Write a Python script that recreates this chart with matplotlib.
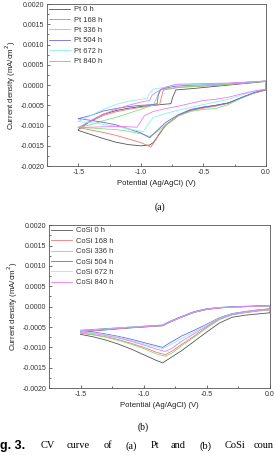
import numpy as np
import matplotlib
matplotlib.use('Agg')
import matplotlib.pyplot as plt
from matplotlib.ticker import MultipleLocator

plt.rcParams['font.family'] = ['Liberation Sans', 'DejaVu Sans']

colors = ['#555555', '#f07878', '#7ee07e', '#6a6ae6', '#8af0f0', '#f07af0']

# ---- (a) Pt : upper (anodic) and lower (cathodic) branches ----
pt_labels = ['Pt 0 h', 'Pt 168 h', 'Pt 336 h', 'Pt 504 h', 'Pt 672 h', 'Pt 840 h']

pt0_up_x = [-1.5, -1.4, -1.3, -1.2, -1.1, -1.0, -0.9, -0.8, -0.76, -0.745, -0.72, -0.6, -0.5, -0.4, -0.3, -0.2, -0.1, 0.0]
pt0_up_y = [-0.00110, -0.00088, -0.00072, -0.00063, -0.00057, -0.00053, -0.00050, -0.00047, -0.00046, -0.00030,
            -0.00012, -0.00009, -0.00006, -0.00003, 0.0, 0.00003, 0.00006, 0.00009]
pt0_lo_x = [0.0, -0.1, -0.2, -0.3, -0.4, -0.5, -0.6, -0.7, -0.8, -0.85, -0.9, -0.93, -1.0, -1.1, -1.2, -1.3, -1.4, -1.5]
pt0_lo_y = [-0.00012, -0.00020, -0.00032, -0.00044, -0.00050, -0.00055, -0.00062, -0.00075, -0.00098, -0.00120,
            -0.00142, -0.00148, -0.00150, -0.00147, -0.00141, -0.00132, -0.00122, -0.00112]

pt168_up_x = [-1.5, -1.4, -1.3, -1.2, -1.1, -1.0, -0.9, -0.85, -0.835, -0.82, -0.7, -0.6, -0.4, -0.2, 0.0]
pt168_up_y = [-0.00105, -0.00090, -0.00075, -0.00066, -0.00060, -0.00055, -0.00050, -0.00048, -0.00030, -0.00012,
              -0.00006, -0.00004, -0.00001, 0.00004, 0.00010]
pt168_lo_x = [0.0, -0.1, -0.2, -0.3, -0.4, -0.5, -0.6, -0.7, -0.8, -0.85, -0.88, -0.92, -1.0, -1.1, -1.2, -1.3, -1.4, -1.5]
pt168_lo_y = [-0.00012, -0.00020, -0.00032, -0.00045, -0.00052, -0.00057, -0.00063, -0.00076, -0.00100, -0.00118,
              -0.00135, -0.00153, -0.00142, -0.00133, -0.00124, -0.00117, -0.00111, -0.00105]

pt336_up_x = [-1.5, -1.4, -1.3, -1.2, -1.1, -1.0, -0.93, -0.9, -0.87, -0.85, -0.7, -0.5, -0.3, -0.1, 0.0]
pt336_up_y = [-0.00105, -0.00098, -0.00088, -0.00080, -0.00070, -0.00060, -0.00052, -0.00050, -0.00030, -0.00012,
              -0.00005, -0.00002, 0.00002, 0.00007, 0.00010]
pt336_lo_x = [0.0, -0.1, -0.2, -0.3, -0.4, -0.5, -0.6, -0.7, -0.8, -0.87, -0.93, -1.0, -1.1, -1.2, -1.3, -1.4, -1.5]
pt336_lo_y = [-0.00010, -0.00020, -0.00033, -0.00048, -0.00058, -0.00060, -0.00065, -0.00076, -0.00098, -0.00115,
              -0.00127, -0.00120, -0.00114, -0.00110, -0.00108, -0.00106, -0.00105]

pt504_up_x = [-1.5, -1.4, -1.3, -1.2, -1.1, -1.0, -0.9, -0.87, -0.86, -0.84, -0.75, -0.7, -0.5, -0.3, 0.0]
pt504_up_y = [-0.00083, -0.00075, -0.00064, -0.00058, -0.00053, -0.00050, -0.00048, -0.00046, -0.00025, -0.00010,
              -0.00004, -0.00002, 0.00001, 0.00004, 0.00010]
pt504_lo_x = [0.0, -0.1, -0.2, -0.3, -0.4, -0.5, -0.6, -0.7, -0.8, -0.88, -0.93, -1.0, -1.1, -1.2, -1.3, -1.4, -1.5]
pt504_lo_y = [-0.00010, -0.00019, -0.00031, -0.00044, -0.00050, -0.00054, -0.00060, -0.00073, -0.00092, -0.00115,
              -0.00130, -0.00118, -0.00108, -0.00098, -0.00092, -0.00087, -0.00083]

pt672_up_x = [-1.5, -1.4, -1.3, -1.2, -1.1, -1.0, -0.95, -0.93, -0.9, -0.8, -0.72, -0.6, -0.3, 0.0]
pt672_up_y = [-0.00090, -0.00075, -0.00060, -0.00048, -0.00040, -0.00035, -0.00033, -0.00020, -0.00010, -0.00005,
              0.0, 0.00001, 0.00004, 0.00010]
pt672_lo_x = [0.0, -0.1, -0.2, -0.3, -0.4, -0.5, -0.6, -0.7, -0.8, -0.9, -0.95, -0.98, -1.1, -1.2, -1.3, -1.4, -1.5]
pt672_lo_y = [-0.00010, -0.00015, -0.00025, -0.00035, -0.00042, -0.00048, -0.00055, -0.00062, -0.00070, -0.00080,
              -0.00100, -0.00115, -0.00108, -0.00102, -0.00097, -0.00093, -0.00090]

pt840_up_x = [-1.5, -1.4, -1.3, -1.2, -1.1, -1.0, -0.93, -0.91, -0.88, -0.8, -0.72, -0.6, -0.3, 0.0]
pt840_up_y = [-0.00105, -0.00088, -0.00072, -0.00060, -0.00050, -0.00042, -0.00038, -0.00025, -0.00018, -0.00005,
              0.00002, 0.00003, 0.00005, 0.00010]
pt840_lo_x = [0.0, -0.1, -0.2, -0.3, -0.4, -0.5, -0.6, -0.7, -0.8, -0.9, -0.97, -1.03, -1.1, -1.2, -1.3, -1.4, -1.5]
pt840_lo_y = [-0.00010, -0.00015, -0.00022, -0.00030, -0.00035, -0.00038, -0.00045, -0.00052, -0.00058, -0.00065,
              -0.00075, -0.00104, -0.00103, -0.00102, -0.00103, -0.00104, -0.00105]

# ---- (b) CoSi ----
cosi_labels = ['CoSi 0 h', 'CoSi 168 h', 'CoSi 336 h', 'CoSi 504 h', 'CoSi 672 h', 'CoSi 840 h']
cosi_up_x = [-1.5, -1.3, -1.1, -0.9, -0.85, -0.8, -0.7, -0.6, -0.5, -0.4, -0.3, -0.2, -0.1, 0.0]
cosi_up_y0 = [-0.00062, -0.00057, -0.00052, -0.00048, -0.00047, -0.00039, -0.00026, -0.00014, -0.00007, -0.00003, -0.00001, 0.0, 0.00001, 0.00002]
cosi_up_y1 = [-0.00061, -0.00056, -0.00051, -0.00047, -0.00046, -0.00038, -0.00025, -0.00013, -0.00006, -0.00003, -0.00001, 0.0, 0.00001, 0.00002]
cosi_up_y2 = [-0.00060, -0.00055, -0.00051, -0.00047, -0.00046, -0.00038, -0.00025, -0.00013, -0.00006, -0.00002, -0.00001, 0.0, 0.00001, 0.00002]
cosi_up_y3 = [-0.00058, -0.00054, -0.00050, -0.00046, -0.00045, -0.00037, -0.00024, -0.00012, -0.00005, -0.00002, 0.0, 0.00001, 0.00002, 0.00003]
cosi_up_y4 = [-0.00059, -0.00055, -0.00050, -0.00047, -0.00046, -0.00038, -0.00025, -0.00013, -0.00006, -0.00002, -0.00001, 0.0, 0.00001, 0.00002]
cosi_up_y5 = [-0.00060, -0.00056, -0.00051, -0.00047, -0.00046, -0.00038, -0.00025, -0.00013, -0.00006, -0.00003, -0.00001, 0.0, 0.00001, 0.00002]

cosi_lo_x0 = [0.0, -0.1, -0.2, -0.3, -0.4, -0.5, -0.6, -0.7, -0.8, -0.85, -0.9, -1.0, -1.1, -1.2, -1.3, -1.4, -1.5]
cosi_lo_x1 = [0.0, -0.1, -0.2, -0.3, -0.4, -0.5, -0.6, -0.7, -0.78, -0.83, -0.9, -1.0, -1.1, -1.2, -1.3, -1.4, -1.5]
cosi_lo_y0 = [-0.00015, -0.00018, -0.00021, -0.00026, -0.00040, -0.00062, -0.00085, -0.00108, -0.00128, -0.00138, -0.00132, -0.00118, -0.00104, -0.00092, -0.00082, -0.00074, -0.00068]
cosi_lo_y1 = [-0.00008, -0.00011, -0.00015, -0.00020, -0.00030, -0.00050, -0.00072, -0.00093, -0.00110, -0.00118, -0.00112, -0.00100, -0.00090, -0.00081, -0.00074, -0.00069, -0.00065]
cosi_lo_y2 = [-0.00007, -0.00010, -0.00014, -0.00020, -0.00032, -0.00052, -0.00075, -0.00096, -0.00115, -0.00122, -0.00116, -0.00103, -0.00092, -0.00083, -0.00075, -0.00069, -0.00065]
cosi_lo_y3 = [-0.00005, -0.00008, -0.00012, -0.00017, -0.00027, -0.00043, -0.00058, -0.00072, -0.00090, -0.00100, -0.00096, -0.00088, -0.00080, -0.00073, -0.00067, -0.00062, -0.00058]
cosi_lo_y4 = [-0.00006, -0.00009, -0.00013, -0.00018, -0.00028, -0.00045, -0.00062, -0.00078, -0.00095, -0.00103, -0.00099, -0.00091, -0.00083, -0.00075, -0.00069, -0.00064, -0.00060]
cosi_lo_y5 = [-0.00006, -0.00009, -0.00013, -0.00019, -0.00029, -0.00048, -0.00066, -0.00085, -0.00103, -0.00110, -0.00104, -0.00094, -0.00085, -0.00077, -0.00071, -0.00066, -0.00062]

pt_up = [(pt0_up_x, pt0_up_y), (pt168_up_x, pt168_up_y), (pt336_up_x, pt336_up_y),
         (pt504_up_x, pt504_up_y), (pt672_up_x, pt672_up_y), (pt840_up_x, pt840_up_y)]
pt_lo = [(pt0_lo_x, pt0_lo_y), (pt168_lo_x, pt168_lo_y), (pt336_lo_x, pt336_lo_y),
         (pt504_lo_x, pt504_lo_y), (pt672_lo_x, pt672_lo_y), (pt840_lo_x, pt840_lo_y)]
cosi_up = [cosi_up_y0, cosi_up_y1, cosi_up_y2, cosi_up_y3, cosi_up_y4, cosi_up_y5]
cosi_lo = [(cosi_lo_x0, cosi_lo_y0), (cosi_lo_x1, cosi_lo_y1), (cosi_lo_x1, cosi_lo_y2),
           (cosi_lo_x0, cosi_lo_y3), (cosi_lo_x0, cosi_lo_y4), (cosi_lo_x1, cosi_lo_y5)]

fig = plt.figure(figsize=(2.75, 4.55), dpi=100)
ax1 = fig.add_axes([0.171, 0.635, 0.796, 0.356])
ax2 = fig.add_axes([0.178, 0.147, 0.804, 0.358])


def style(ax):
    ax.set_xlim(-1.75, 0.0)
    ax.set_ylim(-0.002, 0.002)
    ax.xaxis.set_major_locator(MultipleLocator(0.5))
    ax.xaxis.set_minor_locator(MultipleLocator(0.25))
    ax.yaxis.set_major_locator(MultipleLocator(0.0005))
    ax.yaxis.set_minor_locator(MultipleLocator(0.00025))
    ax.yaxis.set_major_formatter(plt.FormatStrFormatter('%.4f'))
    ax.xaxis.set_major_formatter(plt.FormatStrFormatter('%.1f'))
    ax.tick_params(which='both', direction='in', labelsize=5, pad=2, width=0.5, colors='#333333')
    ax.tick_params(which='major', length=2.5)
    ax.tick_params(which='minor', length=1.5)
    for s in ax.spines.values():
        s.set_linewidth(0.6)
        s.set_color('#555555')
    ax.set_xlabel('Potential (Ag/AgCl) (V)', fontsize=5.6, labelpad=3, color='#222222')
    ax.set_ylabel('Current density (mA/cm$^2$)', fontsize=5.6, labelpad=2, color='#222222')


for i in range(6):
    ux, uy = pt_up[i]
    lx, ly = pt_lo[i]
    ax1.plot(list(ux) + list(lx), list(uy) + list(ly), color=colors[i], lw=0.6, label=pt_labels[i])
    lx2, ly2 = cosi_lo[i]
    ax2.plot(list(cosi_up_x) + list(lx2), list(cosi_up[i]) + list(ly2), color=colors[i], lw=0.6, label=cosi_labels[i])

for ax in (ax1, ax2):
    style(ax)
    leg = ax.legend(loc='upper left', frameon=False, fontsize=5.4, handlelength=2.8, handletextpad=0.6,
                    labelspacing=0.42, borderaxespad=0.1, borderpad=0.15)
    for t in leg.get_texts():
        t.set_color('#333333')

fig.text(0.58, 0.545, '(a)', fontsize=7, family='Liberation Serif', ha='center', va='center')
fig.text(0.52, 0.062, '(b)', fontsize=7, family='Liberation Serif', ha='center', va='center')

# caption (cut off at both sides in the source)
fig.text(0.0, 0.02, 'g. 3.', fontsize=9, fontweight='bold', ha='left', va='center')
cap_words = ['CV', 'curve', 'of', '(a)', 'Pt', 'and', '(b)', 'CoSi', 'coun']
cap_x = [41, 67, 104, 125, 151, 171, 199, 225, 254]
for w, xp in zip(cap_words, cap_x):
    fig.text(xp / 275, 0.02, w, fontsize=7.5, family='Liberation Serif', ha='left', va='center')

fig.savefig('out.png', dpi=100)
